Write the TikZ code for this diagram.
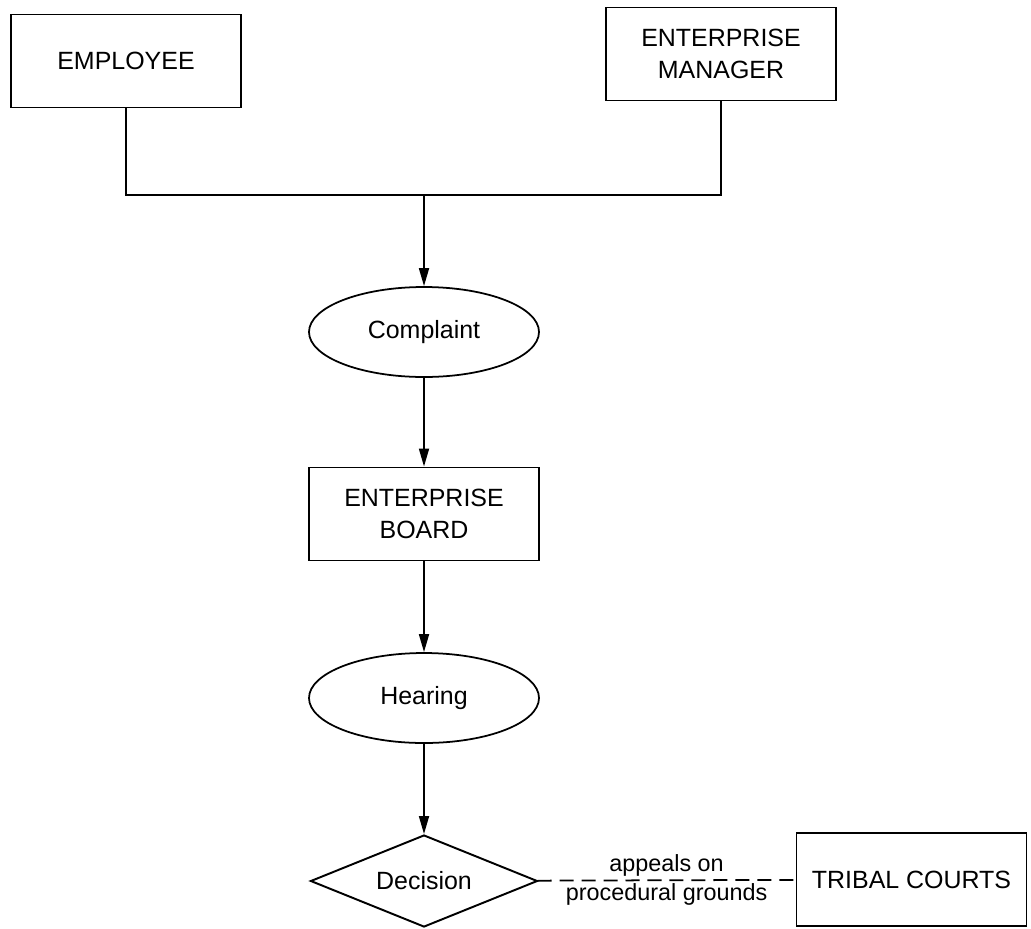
\documentclass[tikz,border=0pt]{standalone}
\usepackage{fontspec}
\setmainfont{Liberation Sans}
\usetikzlibrary{shapes.geometric,arrows.meta}

\begin{document}
\begin{tikzpicture}[
  every node/.style={font=\fontsize{14.2}{18}\selectfont},
  box/.style={draw, line width=1.1pt, minimum width=4.6cm, minimum height=1.86cm, align=center, inner sep=0pt},
  oval/.style={draw, ellipse, line width=1pt, minimum width=4.6cm, minimum height=1.8cm, inner sep=0pt},
  choice/.style={draw, diamond, aspect=2.5, line width=1.1pt, minimum width=4.54cm, minimum height=1.84cm, inner sep=0pt},
  link/.style={line width=1pt},
  arr/.style={link, -{Triangle[length=0.36cm,width=0.2cm]}},
  note/.style={font=\fontsize{13.3}{15}\selectfont, inner sep=1.5pt}
]
\useasboundingbox (0,0) rectangle (20.62,-18.56);
\node[box] (E) at (2.52,-1.22) {EMPLOYEE};
\node[box] (M) at (14.42,-1.08) {ENTERPRISE\\MANAGER};
\coordinate (J) at (8.48,-3.9);
\node[oval] (C) at (8.48,-6.64) {Complaint};
\node[box] (B) at (8.48,-10.28) {ENTERPRISE\\BOARD};
\node[oval] (H) at (8.48,-13.96) {Hearing};
\node[choice] (D) at (8.48,-17.62) {Decision};
\node[box] (T) at (18.23,-17.59) {TRIBAL COURTS};
\draw[link] (E.south) |- (J) -| (M.south);
\draw[arr] (J) -- (C);
\draw[arr] (C) -- (B);
\draw[arr] (B) -- (H);
\draw[arr] (H) -- (D);
\draw[link, dash pattern=on 8pt off 4.5pt] (D) -- (T)
  node[midway, above, note] {appeals on}
  node[midway, below, note] {procedural grounds};
\end{tikzpicture}
\end{document}
